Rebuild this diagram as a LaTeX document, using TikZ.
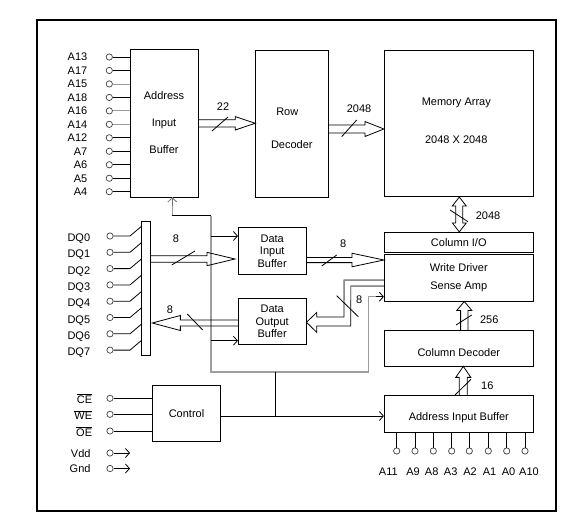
\documentclass[tikz,border=0pt]{standalone}
\usepackage{fontspec}
\setmainfont{Liberation Sans}
\usetikzlibrary{arrows.meta,calc}
\newcommand\fsz{\fontsize{11}{13}\selectfont}
% hollow arrow: #1 start, #2 tip, (#3,#4) unit direction, #5 shaft half width, #6 head half width, #7 head length
\newcommand\hollowarr[7]{%
  \draw[hollow] ($#1+#5*(#4,#3)$) -- ($#2-#7*(#3,#4)+#5*(#4,#3)$) -- ($#2-#7*(#3,#4)+#6*(#4,#3)$) -- #2
     -- ($#2-#7*(#3,#4)-#6*(#4,#3)$) -- ($#2-#7*(#3,#4)-#5*(#4,#3)$) -- ($#1-#5*(#4,#3)$);}
\begin{document}
\begin{tikzpicture}[x=1pt,y=-1pt,
  ln/.style={draw=black,line width=0.8pt},
  gry/.style={draw=black!38,line width=1.5pt},
  hollow/.style={draw=black,line width=0.8pt,line join=miter},
  box/.style={draw,line width=0.8pt,inner sep=0pt,align=center,font=\fsz},
  pinc/.style={circle,draw=black!75,line width=0.7pt,minimum size=6.3pt,inner sep=0pt},
  lbl/.style={inner sep=0pt,font=\fsz},
  arr/.style={-{Straight Barb[length=4pt,width=9pt,line width=0.8pt]}}]
\useasboundingbox (0,0) rectangle (584,523);
\draw[line width=2pt] (37,20) rectangle (556,511);

% ---- boxes ----
\node[box,minimum width=68pt,minimum height=148pt,font=\fontsize{11}{27}\selectfont] (aib) at (164,123) {Address\\Input\\Buffer};
\node[box,minimum width=72.3pt,minimum height=147pt,
  label={[lbl,align=center,font=\fontsize{11}{33.3}\selectfont,yshift=-4.8pt]center:Row\hspace*{9pt}\\Decoder}] (rd) at (291.8,123.5) {};
\node[box,minimum width=149pt,minimum height=146.7pt,
  label={[lbl,align=center,font=\fontsize{11}{38}\selectfont,yshift=2.3pt,xshift=-2.5pt]center:Memory Array\\2048 X 2048}] (mem) at (458.8,123.3) {};
\node[box,minimum width=149pt,minimum height=20pt] (cio) at (458.8,242.3) {Column I/O};
\node[box,minimum width=149pt,minimum height=46.7pt,font=\fontsize{11}{17.3}\selectfont] (wd) at (458.8,277.7) {Write Driver\\Sense Amp};
\node[box,minimum width=149pt,minimum height=35.3pt,
  label={[lbl,yshift=-4pt]center:Column Decoder}] (cdec) at (458.8,348.3) {};
\node[box,minimum width=149pt,minimum height=36.6pt,
  label={[lbl,yshift=-3.3pt]center:Address Input Buffer}] (aib2) at (458.8,414) {};
\node[box,minimum width=67.7pt,minimum height=46.3pt,font=\fontsize{11}{12.5}\selectfont] (dib) at (272.2,250.8) {Data\\Input\\Buffer};
\node[box,minimum width=67.7pt,minimum height=46pt,font=\fontsize{11}{12.5}\selectfont] (dob) at (272.2,321.3) {Data\\Output\\Buffer};
\node[box,minimum width=68.4pt,minimum height=56pt] (ctl) at (186.5,413.7) {Control};
\node[draw,line width=0.8pt,inner sep=0pt,minimum width=8.3pt,minimum height=134pt] (bus) at (145.8,288.7) {};

% ---- left address pins ----
\foreach \lab/\c [count=\i from 0, evaluate=\i as \yy using 57+13.47*\i] in
  {A13/black,A17/black,A15/black!40,A18/black,A16/black!40,A14/black!40,A12/black,A7/black,A6/black,A5/black,A4/black} {
  \node[pinc] (pa\i) at (109.3,\yy) {};
  \node[lbl,anchor=base east] (la\i) at (87.5,\yy+3.95) {\lab};
  \draw[line width=0.8pt,draw=\c] (pa\i) -- (aib.west |- pa\i);
}

% ---- DQ pins ----
\foreach \i [evaluate=\i as \yy using 236+16.3*\i] in {0,...,7} {
  \node[pinc] (pdq\i) at (110,\yy) {};
  \node[lbl,anchor=base west] (ldq\i) at (67.3,\yy+5.5) {DQ\i};
  \draw[ln] (pdq\i) -- ($(pdq\i)+(20,0)$) -- ($(bus.west |- pdq\i)+(0,-9.5)$);
}

% ---- control pins ----
\node[pinc] (pce) at (110,398.3) {};
\node[pinc] (pwe) at (110,414.3) {};
\node[pinc] (poe) at (110,431) {};
\node[lbl,anchor=base east] (lce) at (92.3,403.3) {$\overline{\mbox{CE}}$};
\node[lbl,anchor=base east] (lwe) at (92.3,419.7) {$\overline{\mbox{WE}}$};
\node[lbl,anchor=base east] (loe) at (92.3,436.3) {$\overline{\mbox{OE}}$};
\foreach \p in {pce,pwe,poe} \draw[ln] (\p) -- (ctl.west |- \p);
\node[pinc] (pvdd) at (110,453) {};
\node[pinc] (pgnd) at (110,468.5) {};
\node[lbl,anchor=base east] (lvdd) at (90.7,457) {Vdd};
\node[lbl,anchor=base east] (lgnd) at (90.7,472.5) {Gnd};
\coordinate (evdd) at (130,453);
\coordinate (egnd) at (130,468.5);
\draw[ln,arr] (pvdd) -- (evdd);
\draw[ln,arr] (pgnd) -- (egnd);

% ---- bottom address pins ----
\foreach \lab/\px/\lx [count=\i] in {A11/396.7/388.3,A9/415/413,A8/433.3/431.7,A3/451.7/450.7,A2/469.3/470,A1/488.3/489.5,A0/506.7/508.5,A10/525/529} {
  \node[pinc] (pb\i) at (\px,451) {};
  \node[lbl,anchor=base] (lb\i) at (\lx,475.6) {\lab};
  \draw[ln] (aib2.south -| pb\i) -- (pb\i);
}

% ---- control routing ----
\coordinate (j1) at (172.3,215.7);
\coordinate (j2) at (211,215.7);
\coordinate (j3) at (211,372);
\coordinate (j4) at (368.3,372);
\coordinate (j5) at (368.3,296.7);
\coordinate (j6) at (275.7,372);
\coordinate (j7) at (275.7,416);
\draw[gry] (j1) -- (j1 |- aib.south);
\draw[line width=0.9pt,draw=black!55,-{Straight Barb[length=4pt,width=9pt,line width=0.8pt]}] ($(j1 |- aib.south)+(0,9)$) -- (j1 |- aib.south);
\draw[ln] (j1) -- (j2);
\draw[gry] (j2) -- (j3) -- (j4) -- (j5) -- ($(wd.west |- j5)+(-6,0)$);
\draw[ln,arr] ($(wd.west |- j5)+(-8,0)$) -- (wd.west |- j5);
\draw[ln,arr] (j2 |- 0,236) -- (dib.west |- 0,236);
\draw[ln,arr] (j2 |- 0,340.7) -- (dob.west |- 0,340.7);
\draw[ln] (j6) -- (j7);
\draw[ln,arr] (ctl.east |- j7) -- (aib2.west |- j7);

% ---- hollow bus arrows ----
\coordinate (h1s) at (aib.east |- 0,123.3);
\coordinate (h1t) at (rd.west |- 0,123.3);
\hollowarr{(h1s)}{(h1t)}{1}{0}{3.6}{6.7}{20}
\coordinate (h2s) at (rd.east |- 0,129);
\coordinate (h2t) at (mem.west |- 0,129);
\hollowarr{(h2s)}{(h2t)}{1}{0}{4}{7.5}{19}
\coordinate (h4s) at (cdec.north -| 464.3,0);
\coordinate (h4t) at (wd.south -| 464.3,0);
\hollowarr{(h4s)}{(h4t)}{0}{-1}{3.7}{7.5}{9}
\coordinate (h5s) at (aib2.north -| 463.3,0);
\coordinate (h5t) at (cdec.south -| 463.3,0);
\hollowarr{(h5s)}{(h5t)}{0}{-1}{4}{7.5}{11}
\coordinate (h6s) at (bus.east |- 0,259);
\coordinate (h6t) at ($(dib.west |- 0,259)+(-3,0)$);
\hollowarr{(h6s)}{(h6t)}{1}{0}{3.2}{6.7}{28}
\coordinate (h7s) at (dob.west |- 0,323);
\coordinate (h7t) at ($(bus.east |- 0,323)+(2,0)$);
\hollowarr{(h7s)}{(h7t)}{-1}{0}{3}{7.5}{28}
\coordinate (h8s) at (dib.east |- 0,260);
\coordinate (h8t) at (wd.west |- 0,260);
\hollowarr{(h8s)}{(h8t)}{1}{0}{2.6}{6.8}{32}
% double-headed vertical
\coordinate (vT) at (mem.south -| 459.3,0);
\coordinate (vB) at (cio.north -| 459.3,0);
\draw[hollow] (vT) -- ($(vT)+(7,9)$) -- ($(vT)+(3.5,9)$) -- ($(vB)+(3.5,-9)$) -- ($(vB)+(7,-9)$) -- (vB)
  -- ($(vB)+(-7,-9)$) -- ($(vB)+(-3.5,-9)$) -- ($(vT)+(-3.5,9)$) -- ($(vT)+(-7,9)$) -- cycle;
% bent arrow from sense amp to data output buffer
\coordinate (bt) at (dob.east |- 0,322.3);
\draw[hollow] (wd.west |- 0,280) -- (344,280) -- (344,317) -- (316.7,317) -- (316.7,312.5) -- (bt)
  -- (316.7,332.3) -- (316.7,326) -- (350.7,326) -- (350.7,286) -- (wd.west |- 0,286);
\draw[draw=black!45,line width=1pt] (wd.west |- 0,280) -- (344,280) -- (344,300);
\draw[draw=black!45,line width=1pt] (wd.west |- 0,286) -- (350.7,286) -- (350.7,300);

% ---- bus width slashes and labels ----
\draw[ln] (212,131) -- (228,117);
\node[lbl,anchor=base] (n22) at (223,110) {22};
\draw[ln] (341.7,136.7) -- (356.7,120);
\node[lbl,anchor=base] (n2048a) at (359,112) {2048};
\draw[ln] (450,210) -- (468,221.7);
\node[lbl,anchor=base] (n2048b) at (488,219.6) {2048};
\draw[ln] (456,325) -- (471.7,315);
\node[lbl,anchor=base] (n256) at (489.3,323) {256};
\draw[ln] (455,395) -- (471,379.3);
\node[lbl,anchor=base] (n16) at (487.3,389) {16};
\draw[ln] (171.7,265) -- (195,251);
\node[lbl,anchor=base] (n8a) at (176,242) {8};
\draw[ln] (187.3,314) -- (202.7,330);
\node[lbl,anchor=base] (n8b) at (170,313) {8};
\draw[ln] (321.7,266) -- (336.7,255);
\node[lbl,anchor=base] (n8c) at (343.3,247.3) {8};
\draw[ln] (336.7,295.7) -- (358.3,316.7);
\node[lbl,anchor=base] (n8d) at (359.3,303) {8};
\end{tikzpicture}
\end{document}
